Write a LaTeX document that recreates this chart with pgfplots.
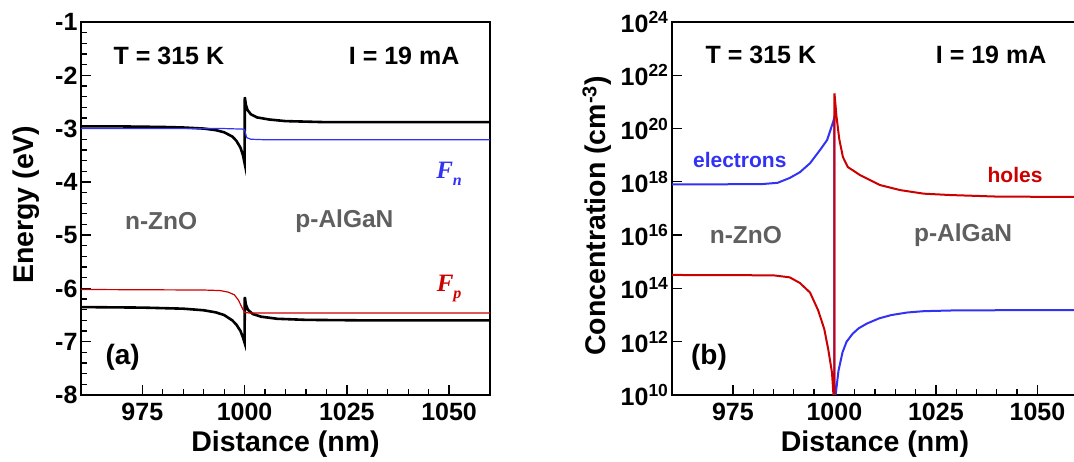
\documentclass[border=0pt]{standalone}
\usepackage{fontspec}
\setmainfont{Liberation Sans}
\newfontfamily\timesf{Liberation Serif}
\usepackage{pgfplots}
\pgfplotsset{compat=1.18}
\definecolor{myblue}{RGB}{50,50,245}
\definecolor{myred}{RGB}{205,0,0}
\definecolor{mygray}{RGB}{95,95,95}
\newcommand{\fs}[1]{\fontsize{#1pt}{#1pt}\selectfont\bfseries}
\pgfplotsset{
  common/.style={
    scale only axis, anchor=south west,
    xmin=960, xmax=1060,
    xtick={975,1000,1025,1050}, minor x tick num=4,
    xtick pos=bottom, ytick pos=left, tick align=inside,
    axis line style={line width=1.8pt},
    major tick length=10pt, minor tick length=6pt,
    every tick/.style={black, line width=1.3pt},
    /pgf/number format/assume math mode=true,
    /pgf/number format/1000 sep={},
    ticklabel style={font=\fs{25}},
    xticklabel style={yshift=-5pt},
    label style={font=\fs{28.5}},
    clip mode=individual,
  }
}
\begin{document}
\begin{tikzpicture}
% ---------- (a) ----------
\begin{axis}[common, at={(81pt,67pt)}, width=409pt, height=373pt,
  ymin=-8, ymax=-1, ytick={-8,-7,...,-1}, minor y tick num=4,
  xlabel={Distance (nm)}, ylabel={Energy (eV)},
  xlabel style={at={(axis description cs:0.5,-0.132)}, anchor=center},
  ylabel style={at={(axis description cs:-0.133,0.51)}, anchor=center, rotate=0},
]
\addplot[black, line width=2.6pt] coordinates {
(960,-2.96) (970,-2.96) (980,-2.97) (985,-2.98) (990,-3.00) (993,-3.03) (995,-3.07)
(997,-3.15) (998,-3.23) (999,-3.36) (999.6,-3.50) (1000,-3.65) (1000.05,-2.41)
(1000.3,-2.55) (1000.7,-2.65) (1001.5,-2.73) (1003,-2.79) (1006,-2.83) (1010,-2.86)
(1020,-2.88) (1040,-2.88) (1060,-2.88)};
\addplot[myblue, line width=1.2pt] coordinates {
(960,-3.00) (995,-3.00) (999.5,-3.01) (1000,-3.02) (1000.5,-3.17) (1001.5,-3.20)
(1005,-3.21) (1060,-3.21)};
\addplot[black, line width=2.6pt] coordinates {
(960,-6.35) (975,-6.36) (985,-6.38) (990,-6.41) (993,-6.45) (995,-6.50) (997,-6.60)
(998,-6.68) (999,-6.80) (999.6,-6.92) (1000,-7.02) (1000.05,-6.16) (1000.3,-6.30)
(1000.8,-6.40) (1002,-6.48) (1004,-6.53) (1008,-6.57) (1015,-6.59) (1030,-6.60) (1060,-6.60)};
\addplot[myred, line width=1.2pt] coordinates {
(960,-6.02) (990,-6.03) (994,-6.04) (996,-6.07) (997.5,-6.12) (998.5,-6.22)
(999.3,-6.35) (1000,-6.45) (1001,-6.46) (1060,-6.46)};
\node[font=\fs{25}] at (axis cs:981.5,-1.64) {T = 315 K};
\node[font=\fs{25}] at (axis cs:1039,-1.64) {I = 19 mA};
\node[font=\fs{24.5}, text=mygray] at (axis cs:979.6,-4.73) {n-ZnO};
\node[font=\fs{24.5}, text=mygray] at (axis cs:1024.4,-4.73) {p-AlGaN};
\node[font=\fs{28}] at (axis cs:970.2,-7.29) {(a)};
\node[text=myblue, font=\fontsize{25pt}{25pt}\timesf\bfseries\itshape] at (axis cs:1050,-3.85) {F\raisebox{-0.3em}{\fontsize{16pt}{16pt}\selectfont n}};
\node[text=myred, font=\fontsize{25pt}{25pt}\timesf\bfseries\itshape] at (axis cs:1050,-6.0) {F\raisebox{-0.3em}{\fontsize{16pt}{16pt}\selectfont p}};
\end{axis}
% ---------- (b) ----------
\begin{axis}[common, at={(672pt,67pt)}, width=406pt, height=373pt,
  ymode=log, ymin=1e10, ymax=1e24,
  ytick={1e10,1e12,1e14,1e16,1e18,1e20,1e22,1e24},
  yticklabels={10\textsuperscript{10},10\textsuperscript{12},10\textsuperscript{14},10\textsuperscript{16},10\textsuperscript{18},10\textsuperscript{20},10\textsuperscript{22},10\textsuperscript{24}},
  yminorticks=false,
  xlabel={Distance (nm)}, ylabel={Concentration (cm\textsuperscript{-3})},
  xlabel style={at={(axis description cs:0.5,-0.132)}, anchor=center},
  ylabel style={at={(axis description cs:-0.185,0.48)}, anchor=center, rotate=0},
]
\addplot[myblue, line width=2pt] coordinates {
(960,8e17) (982,8.2e17) (986,9.2e17) (989,1.4e18) (991.5,2.3e18) (994,5e18)
(996.5,1.6e19) (998.2,3.7e19) (999.7,1.8e20) (1000,2.7e20) (1000.02,5e9)
(1000.3,1e10) (1001,8e10) (1002,4e11) (1003,1e12) (1004.5,2e12) (1006,3.2e12)
(1008,4.8e12) (1011,7.5e12) (1014,1e13) (1018,1.25e13) (1022,1.4e13) (1030,1.5e13) (1060,1.55e13)};
\addplot[myred, line width=2pt] coordinates {
(960,3.2e14) (985,3.1e14) (989,2.6e14) (991.5,1.6e14) (994,7e13) (996,1.5e13)
(997.5,3e12) (998.5,5e11) (999.4,7e10) (999.9,5e9) (1000,5e9) (1000.02,2.1e21)
(1000.5,3e20) (1001.2,4e19) (1002.1,8.5e18) (1003.3,3.6e18) (1006.3,1.8e18)
(1011.2,7.6e17) (1016.2,4.9e17) (1022,3.6e17) (1028.5,3.2e17) (1040,2.8e17) (1060,2.7e17)};
\node[font=\fs{25}] at (axis cs:981.9,5.7e22) {T = 315 K};
\node[font=\fs{25}] at (axis cs:1038.6,5.7e22) {I = 19 mA};
\node[font=\fs{24.5}, text=mygray] at (axis cs:978.2,1e16) {n-ZnO};
\node[font=\fs{24.5}, text=mygray] at (axis cs:1031.7,1e16) {p-AlGaN};
\node[font=\fs{21}, text=myblue] at (axis cs:976.7,6.6e18) {electrons};
\node[font=\fs{21}, text=myred] at (axis cs:1044.5,1.8e18) {holes};
\node[font=\fs{28}] at (axis cs:969.1,2.5e11) {(b)};
\end{axis}
\pgfresetboundingbox
\path[use as bounding box] (0pt,0pt) rectangle (1074pt,462pt);
\end{tikzpicture}
\end{document}
